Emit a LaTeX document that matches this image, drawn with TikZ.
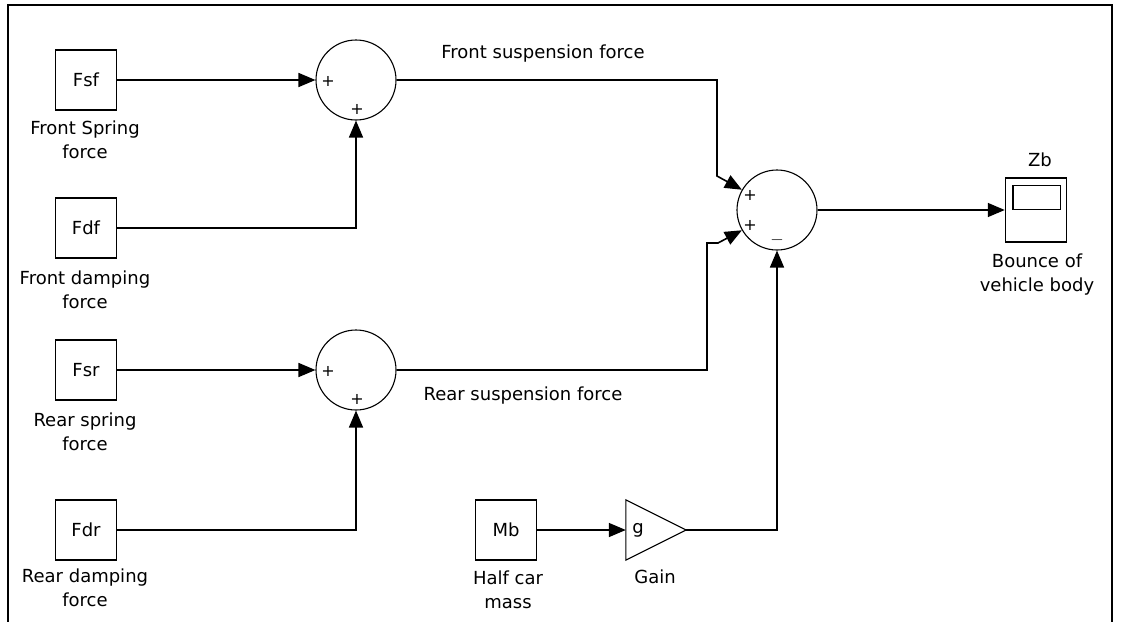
\documentclass[tikz,border=0pt]{standalone}
\usepackage{fontspec}
\setmainfont{DejaVu Sans}
\usetikzlibrary{arrows.meta,positioning}
\tikzset{
  blk/.style={draw, line width=1.5pt, minimum width=61pt, minimum height=60pt, inner sep=0pt},
  sumblk/.style={draw, circle, line width=1.1pt, minimum size=80pt, inner sep=0pt},
  lbl/.style={align=center, font=\fontsize{18}{24}\selectfont, inner sep=0pt},
  sgn/.style={font=\fontsize{16}{16}\selectfont, inner sep=0pt},
  wire/.style={line width=1.6pt},
  sig/.style={wire, -{Triangle[length=17pt,width=14pt]}}
}
\begin{document}
\begin{tikzpicture}[x=1pt,y=-1pt]
    \useasboundingbox (0,0) rectangle (1121,621);
    \fill[white] (0,0) rectangle (1121,621);

    % Frame
    \draw[line width=2.5pt] (8,630) -- (8,5) -- (1112,5) -- (1112,630);

    % Source blocks
    \node[blk, lbl] (fsf) at (86,80) {Fsf};
    \node[blk, lbl] (fdf) at (86,228) {Fdf};
    \node[blk, lbl] (fsr) at (86,370) {Fsr};
    \node[blk, lbl] (fdr) at (86,530) {Fdr};
    \node[blk, lbl] (mb) at (506,530) {Mb};
    \node[lbl] at (85,140) {Front Spring\\force};
    \node[lbl] at (85,290) {Front damping\\force};
    \node[lbl] at (85,432) {Rear spring\\force};
    \node[lbl] at (85,588) {Rear damping\\force};
    \node[lbl] at (508,590) {Half car\\mass};

    % Gain
    \node[minimum width=60pt, minimum height=60pt, inner sep=0pt] (gain) at (656,530) {};
    \draw[line width=1.1pt] (gain.north west) -- (gain.east) -- (gain.south west) -- cycle;
    \node[lbl] at (638,530) {g};
    \node[lbl] at (655,577) {Gain};

    % Sum blocks
    \node[sumblk] (sum1) at (356,80) {};
    \node[sumblk] (sum2) at (356,370) {};
    \node[sumblk] (sum3) at (777,210) {};
    \node[sgn] at (328,81) {+};
    \node[sgn] at (357,109) {+};
    \node[sgn] at (328,371) {+};
    \node[sgn] at (357,399) {+};
    \node[sgn] at (750,195) {+};
    \node[sgn] at (750,225) {+};
    \node[sgn] at (777,240) {$-$};

    % Scope
    \node[blk, minimum height=64pt] (scope) at (1036,210) {};
    \draw[line width=1.5pt] ([xshift=8pt,yshift=-8pt]scope.north west) rectangle ([xshift=-7pt,yshift=-32pt]scope.north east);
    \node[lbl] at (1040,160) {Zb};
    \node[lbl] at (1037,275) {Bounce of\\vehicle body};

    % Signal names
    \node[lbl] at (543,54) {Front suspension force};
    \node[lbl] at (523,396) {Rear suspension force};

    % Bends
    \coordinate (k1) at (717,176);
    \coordinate (k2) at (707,243);
    \coordinate (k3) at (718,243);

    % Signals
    \draw[sig] (fsf) -- (sum1);
    \draw[sig] (fdf.east) -| (sum1.south);
    \draw[sig] (fsr) -- (sum2);
    \draw[sig] (fdr.east) -| (sum2.south);
    \draw[sig] (sum1.east) -| (k1) -- (sum3.150);
    \draw[sig] (sum2.east) -| (k2) -- (k3) -- (sum3.210);
    \draw[sig] (mb) -- (gain.west);
    \draw[sig] (gain.east) -| (sum3.south);
    \draw[sig] (sum3) -- (scope);
\end{tikzpicture}
\end{document}
